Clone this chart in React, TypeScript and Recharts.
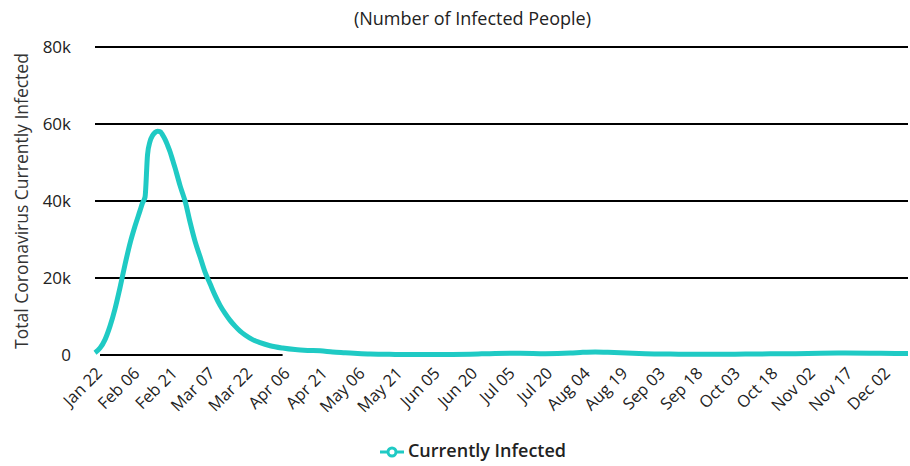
import React from 'react';
import {
  LineChart,
  Line,
  XAxis,
  YAxis,
  CartesianGrid,
  Legend,
  ReferenceLine,
} from 'recharts';

// day offset from Jan 22 2020 and the number of people currently infected
const days = [
  0, 2, 4, 6, 8, 10, 12, 14, 16, 18, 19, 20, 21, 22, 23, 24, 25, 26, 27, 28, 29,
  30, 31, 32, 33, 34, 35, 36, 38, 40, 42, 44, 46, 48, 50, 52, 54, 56, 58, 60, 63,
  66, 70, 75, 80, 85, 90, 95, 100, 105, 110, 120, 130, 140, 150, 160, 170, 180,
  190, 195, 200, 205, 210, 215, 220, 230, 240, 250, 260, 270, 280, 290, 300, 310,
  320, 325,
];
const infected = [
  600, 1800, 4000, 7500, 12000, 17500, 23500, 29000, 33500, 37500, 39500, 41000,
  52000, 55500, 57000, 57800, 58100, 58000, 57200, 56000, 54500, 52800, 50700,
  48600, 46300, 44000, 42000, 40000, 34500, 29500, 25500, 21500, 18500, 15500,
  12900, 10800, 9000, 7500, 6200, 5200, 4000, 3200, 2400, 1800, 1400, 1200, 1100,
  800, 600, 400, 250, 150, 100, 120, 200, 400, 450, 350, 500, 700, 800, 700, 600,
  450, 350, 250, 200, 200, 250, 300, 350, 450, 500, 450, 400, 400,
];

const tickDays = [0, 15, 30, 45, 60, 75, 90, 105, 120, 135, 150, 165, 180, 195, 210, 225, 240, 255, 270, 285, 300, 315];
const tickLabels = [
  'Jan 22', 'Feb 06', 'Feb 21', 'Mar 07', 'Mar 22', 'Apr 06', 'Apr 21', 'May 06',
  'May 21', 'Jun 05', 'Jun 20', 'Jul 05', 'Jul 20', 'Aug 04', 'Aug 19', 'Sep 03',
  'Sep 18', 'Oct 03', 'Oct 18', 'Nov 02', 'Nov 17', 'Dec 02',
];
const yTicks = [0, 20000, 40000, 60000, 80000];

const lastDay = 325;
const font = '"Open Sans", sans-serif';
const teal = '#1fcac4';

const data = days.map((d, i) => ({ day: d, infected: infected[i] }));

const App: React.FC = () => {
  return (
    <div style={{ position: 'absolute', left: 0, top: 0, width: 910, height: 466, fontFamily: font }}>
      <div
        style={{
          position: 'absolute',
          top: 6,
          left: 0,
          width: 945,
          textAlign: 'center',
          fontSize: 18,
          color: '#222',
        }}
      >
        (Number of Infected People)
      </div>
      <LineChart
        width={910}
        height={466}
        data={data}
        margin={{ top: 47, right: 2, left: 0, bottom: 0 }}
      >
        <CartesianGrid
          vertical={false}
          horizontalValues={[20000, 40000, 60000, 80000]}
          stroke="#000"
          strokeWidth={2}
        />
        <ReferenceLine
          segment={[
            { x: 2, y: 0 },
            { x: 75, y: 0 },
          ]}
          stroke="#000"
          strokeWidth={2}
        />
        <XAxis
          dataKey="day"
          type="number"
          domain={[0, lastDay]}
          ticks={tickDays}
          interval={0}
          tickFormatter={(d: number) => tickLabels[tickDays.indexOf(d)]}
          angle={-45}
          textAnchor="end"
          height={83}
          axisLine={false}
          tickLine={false}
          tickMargin={5}
          tick={{ fill: '#222', fontSize: 16.5, fontFamily: font }}
        />
        <YAxis
          width={95}
          domain={[0, 80000]}
          ticks={yTicks}
          interval={0}
          tickFormatter={(v: number) => (v === 0 ? '0' : `${v / 1000}k`)}
          axisLine={false}
          tickLine={false}
          tickMargin={18}
          tick={{ fill: '#222', fontSize: 17, fontFamily: font }}
          label={{
            value: 'Total Coronavirus Currently Infected',
            angle: -90,
            position: 'insideLeft',
            offset: 22,
            style: { textAnchor: 'middle', fill: '#333', fontSize: 17.5, fontFamily: font },
          }}
        />
        <Legend
          verticalAlign="bottom"
          height={28}
          iconSize={24}
          wrapperStyle={{ left: 0, width: 956, fontSize: 18, fontWeight: 600, fontFamily: font }}
          formatter={(value: string) => <span style={{ color: '#222' }}>{value}</span>}
        />
        <Line
          type="monotone"
          dataKey="infected"
          name="Currently Infected"
          stroke={teal}
          strokeWidth={5}
          dot={false}
          isAnimationActive={false}
        />
      </LineChart>
    </div>
  );
};

export default App;
